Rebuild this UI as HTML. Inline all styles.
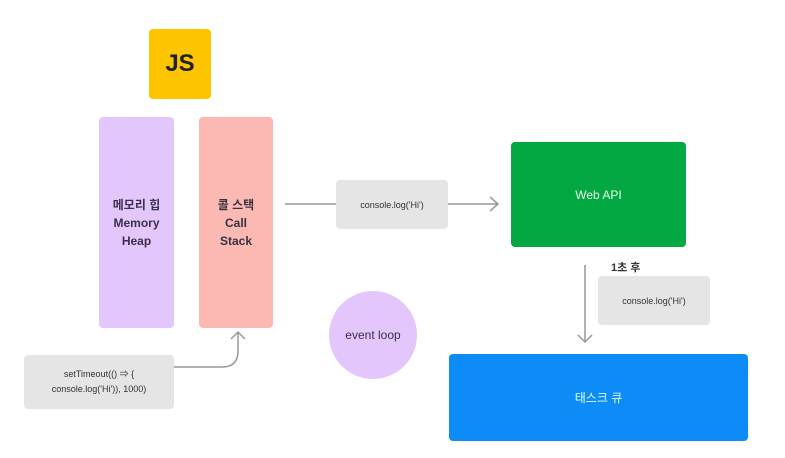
<!DOCTYPE html>
<html><head><meta charset="utf-8"><style>
body{margin:0;width:785px;height:458px;background:#fff;position:relative;overflow:hidden;font-family:"Liberation Sans","Noto Sans CJK KR",sans-serif}
.b{position:absolute;display:flex;align-items:center;justify-content:center;text-align:center;border-radius:4px}
</style></head><body>
<div class="b" style="left:149px;top:29px;width:62px;height:70px;background:#fdc400;font-weight:bold;font-size:24px;color:#222">JS</div>
<div class="b" style="left:99px;top:117px;width:75px;height:211px;background:#e3c6fb;font-weight:bold;font-size:12px;line-height:18px;color:#3a3050">메모리 힙<br>Memory<br>Heap</div>
<div class="b" style="left:199px;top:117px;width:74px;height:211px;background:#fcb9b3;font-weight:bold;font-size:12px;line-height:18px;color:#3a3040">콜 스택<br>Call<br>Stack</div>
<div class="b" style="left:24px;top:355px;width:150px;height:54px;background:#e5e5e5;font-size:9px;line-height:15px;color:#333">setTimeout(() ⇒ {<br>console.log('Hi')), 1000)</div>
<div class="b" style="left:336px;top:180px;width:112px;height:49px;background:#e5e5e5;font-size:9px;color:#333">console.log('Hi')</div>
<div class="b" style="left:511px;top:142px;width:175px;height:105px;background:#03a843;font-size:12px;color:#e8ffe8">Web API</div>
<div class="b" style="left:598px;top:276px;width:112px;height:49px;background:#e5e5e5;font-size:9px;color:#333">console.log('Hi')</div>
<div class="b" style="left:329px;top:291px;width:88px;height:88px;border-radius:50%;background:#e3c6fb;font-size:12px;color:#3a3050">event loop</div>
<div class="b" style="left:449px;top:354px;width:299px;height:87px;background:#0d8cf8;font-size:12px;color:#dff">태스크 큐</div>
<div style="position:absolute;left:611px;top:259px;font-size:11px;font-weight:bold;color:#333">1초 후</div>
<svg width="785" height="458" style="position:absolute;left:0;top:0" fill="none" stroke="#999" stroke-width="1.5">
<path d="M285 204H336M448 204H498M490 197L498 204L490 211"/>
<path d="M585 265V342M578 335L585 342L592 335"/>
<path d="M174 367H222Q238 367 238 351V332M231 339L238 332L245 339"/>
</svg>
</body></html>
